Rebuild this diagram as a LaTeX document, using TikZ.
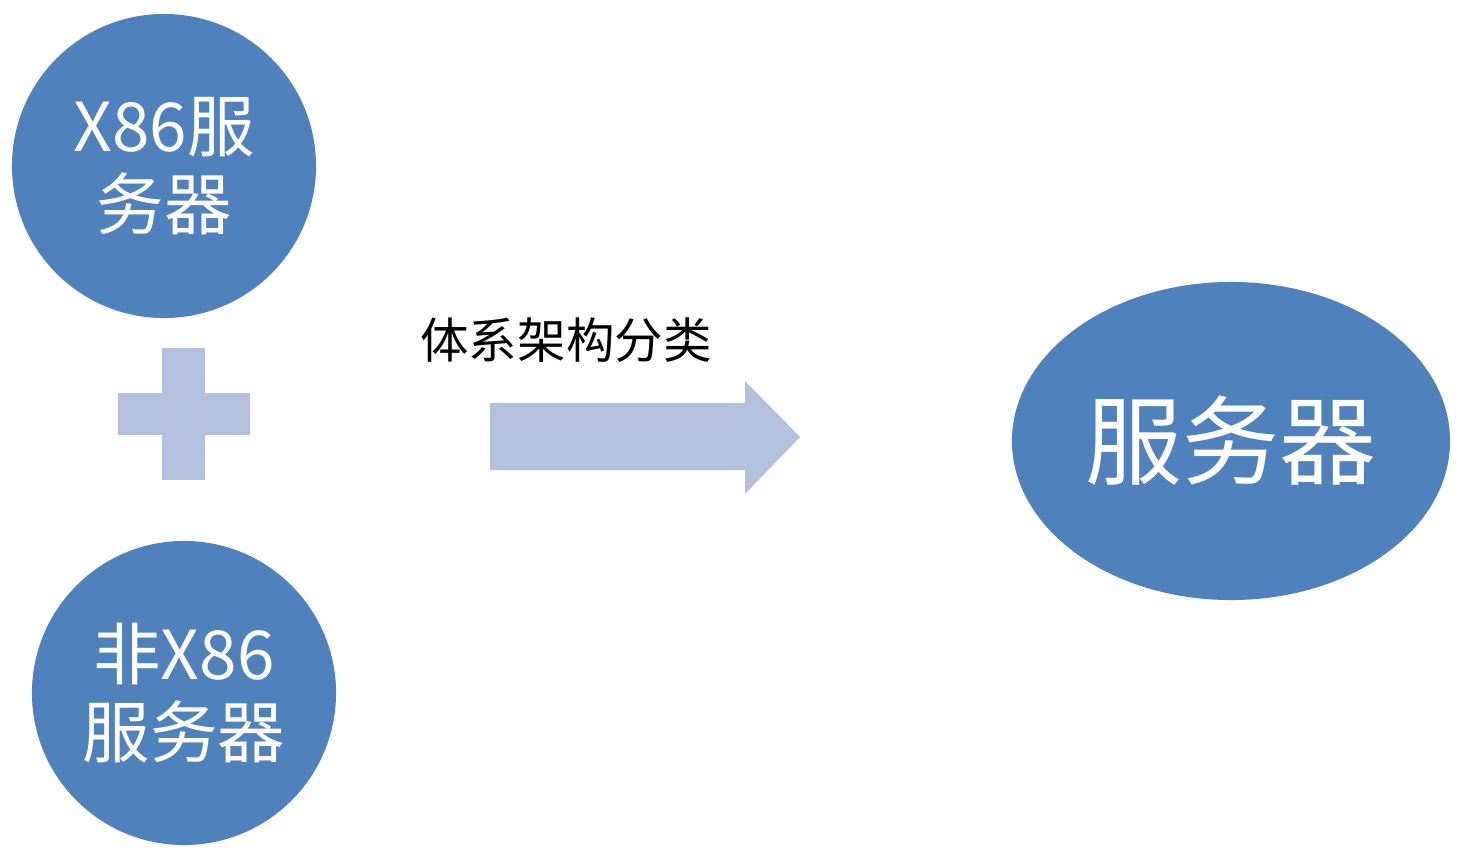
\documentclass[tikz,border=0pt]{standalone}
\usepackage{fontspec}
\setmainfont{Noto Sans CJK SC}
\usetikzlibrary{positioning,shapes.geometric}
\definecolor{srvblue}{HTML}{4F81BD}
\definecolor{srvpale}{HTML}{B4C1DE}

\begin{document}
\begin{tikzpicture}[x=0.025cm,y=-0.025cm,
  srv/.style={circle,fill=srvblue,minimum size=7.6cm,inner sep=0pt,text=white,align=center,font=\fontsize{48}{56}\selectfont},
  big/.style={ellipse,fill=srvblue,minimum width=10.95cm,minimum height=7.95cm,inner sep=0pt,text=white,font=\fontsize{69}{72}\selectfont},
  pale/.style={fill=srvpale}]
\useasboundingbox (0,0) rectangle (1463,860);
\node[srv] (x86) at (164,166) {X86服\\务器};
\node[srv] (nonx86) at (184,693) {非X86\\服务器};
\node[big] (all) at (1231,441) {服务器};
% plus sign
\fill[pale] (118,393) rectangle (250,435);
\fill[pale] (162,348) rectangle (205,480);
% classification arrow
\fill[pale] (490,403) -- (745,403) -- (745,381) -- (800,437) -- (745,494) -- (745,470) -- (490,470) -- cycle;
\node[font=\fontsize{34.5}{36}\selectfont] (lbl) at (566,340) {体系架构分类};
\end{tikzpicture}
\end{document}
